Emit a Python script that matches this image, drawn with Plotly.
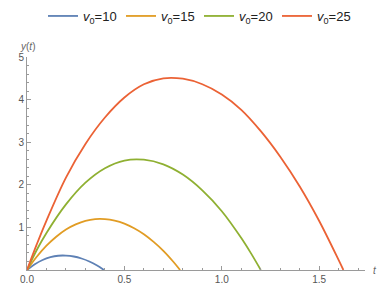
import plotly.graph_objects as go

# Data
series_names = ["<i>v</i><sub>0</sub>=10", "<i>v</i><sub>0</sub>=15",
                "<i>v</i><sub>0</sub>=20", "<i>v</i><sub>0</sub>=25"]
colors = ["#5E81B5", "#E19C24", "#8FB032", "#EB6235"]

t_v10 = [0, 0.04, 0.08, 0.12, 0.16, 0.20, 0.24, 0.28, 0.32, 0.36, 0.395]
y_v10 = [0, 0.135, 0.235, 0.30, 0.335, 0.338, 0.317, 0.27, 0.20, 0.104, 0]

t_v15 = [0, 0.05, 0.1, 0.15, 0.2, 0.25, 0.3, 0.35, 0.4, 0.45, 0.5, 0.55, 0.6, 0.65, 0.7, 0.75, 0.786]
y_v15 = [0, 0.31, 0.57, 0.78, 0.95, 1.07, 1.155, 1.195, 1.195, 1.16, 1.09, 0.98, 0.84, 0.66, 0.45, 0.2, 0]

t_v20 = [0, 0.05, 0.1, 0.2, 0.3, 0.4, 0.5, 0.6, 0.7, 0.8, 0.9, 1.0, 1.1, 1.15, 1.2]
y_v20 = [0, 0.47, 0.87, 1.54, 2.05, 2.39, 2.57, 2.59, 2.48, 2.24, 1.87, 1.38, 0.75, 0.39, 0]

t_v25 = [0, 0.05, 0.1, 0.2, 0.3, 0.4, 0.5, 0.6, 0.7, 0.8, 0.9, 1.0, 1.1, 1.2, 1.3, 1.4, 1.5, 1.6, 1.624]
y_v25 = [0, 0.6, 1.16, 2.17, 2.96, 3.58, 4.05, 4.36, 4.50, 4.49, 4.36, 4.12, 3.76, 3.26, 2.66, 1.96, 1.15, 0.23, 0]

ts = [t_v10, t_v15, t_v20, t_v25]
ys = [y_v10, y_v15, y_v20, y_v25]

x_ticks = [0.0, 0.5, 1.0, 1.5]
x_tick_text = ["0.0", "0.5", "1.0", "1.5"]
y_ticks = [1, 2, 3, 4, 5]

fig = go.Figure()
for name, c, t, y in zip(series_names, colors, ts, ys):
    fig.add_trace(go.Scatter(x=t, y=y, mode="lines", name=name,
                             line=dict(color=c, width=1.8, shape="spline", smoothing=1.0)))

# page body has an 8px default margin, so the figure is drawn 8px in from the top-left
W, H = 382, 281
axis_col = "#9a9a9a"
fig.update_layout(
    width=W, height=H,
    margin=dict(l=19, r=25, t=49, b=19, autoexpand=False),
    paper_bgcolor="white", plot_bgcolor="white",
    font=dict(family="Liberation Sans, Arial, sans-serif", color="#555555", size=10),
    showlegend=True,
    legend=dict(orientation="h", xref="container", yref="container",
                x=0.5, xanchor="center", y=1 - 8 / H, yanchor="middle",
                font=dict(size=13, color="#222222"),
                itemwidth=30, tracegroupgap=0,
                entrywidth=33, entrywidthmode="pixels"),
    xaxis=dict(range=[0, 1.735], showgrid=False, zeroline=False, automargin=False,
               showline=True, linecolor=axis_col, linewidth=1,
               ticks="inside", ticklen=4, tickcolor=axis_col,
               tickvals=x_ticks, ticktext=x_tick_text,
               minor=dict(dtick=0.1, tick0=0, ticks="inside", ticklen=2, tickcolor=axis_col),
               tickfont=dict(size=10, color="#555555")),
    yaxis=dict(range=[0, 5], showgrid=False, zeroline=False, automargin=False,
               showline=True, linecolor=axis_col, linewidth=1,
               ticks="inside", ticklen=4, tickcolor=axis_col,
               tickvals=y_ticks,
               minor=dict(dtick=0.2, tick0=0, ticks="inside", ticklen=2, tickcolor=axis_col),
               tickfont=dict(size=10, color="#555555")),
    annotations=[
        dict(text="<i>y</i>(<i>t</i>)", xref="paper", yref="paper", x=0, y=1,
             xanchor="center", yanchor="bottom", yshift=3, showarrow=False,
             font=dict(size=10, color="#666666")),
        dict(text="<i>t</i>", xref="paper", yref="paper", x=1, y=0,
             xanchor="left", yanchor="middle", xshift=6, showarrow=False,
             font=dict(size=10, color="#666666")),
    ],
)

fig.write_html("out.html")
